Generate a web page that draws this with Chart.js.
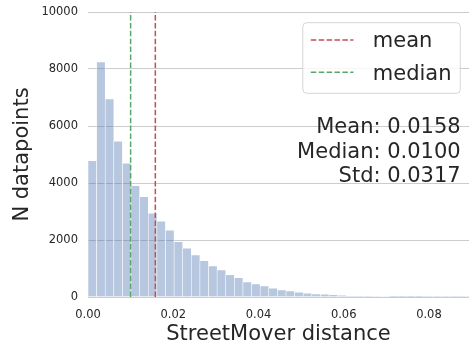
<!DOCTYPE html>
<html>
<head>
<meta charset="utf-8">
<script src="https://cdn.jsdelivr.net/npm/chart.js@4.4.0/dist/chart.umd.min.js"></script>
<style>
    html, body { margin: 0; padding: 0; background: #ffffff; }
    #wrap { width: 469px; height: 346px; }
</style>
</head>
<body>
<div id="wrap"><canvas id="myChart"></canvas></div>
<script>
// histogram of StreetMover distance, one count per bin
const binWidth = 0.00202;
const counts = [4780, 8250, 6950, 5465, 4693, 3907, 3521, 2937, 2657, 2340,
    1941, 1709, 1474, 1275, 1088, 948, 784, 678, 527, 456,
    386, 305, 246, 211, 164, 129, 105, 100, 82, 60,
    35, 30, 25, 20, 18, 6, 5, 4, 4, 3,
    3, 2, 2, 2, 2];

const meanValue = 0.0158;
const medianValue = 0.0100;
const stdValue = 0.0317;

const xTicks = [0, 0.02, 0.04, 0.06, 0.08];
const yTicks = [0, 2000, 4000, 6000, 8000, 10000];

const legendLabels = ['mean', 'median'];
const statsLines = [
    'Mean: ' + meanValue.toFixed(4),
    'Median: ' + medianValue.toFixed(4),
    'Std: ' + stdValue.toFixed(4)
];

const textColor = '#262626';
const fontFamily = '"DejaVu Sans", sans-serif';

const barData = counts.map((c, i) => ({ x: (i + 0.5) * binWidth, y: c }));

function vline(value) {
    return [{ x: value, y: yTicks[0] }, { x: value, y: yTicks[yTicks.length - 1] }];
}

// legend box + stats text, drawn like matplotlib's legend and text
const annotations = {
    id: 'annotations',
    afterDraw(chart) {
        const ctx = chart.ctx;
        const area = chart.chartArea;
        const right = area.right - 8.7;
        const top = area.top;
        ctx.save();

        // legend frame
        const bx = right - 157.5, by = top + 10.7, bw = 157.5, bh = 70.6;
        ctx.beginPath();
        ctx.roundRect(bx, by, bw, bh, 4);
        ctx.fillStyle = 'rgba(255,255,255,0.8)';
        ctx.fill();
        ctx.strokeStyle = 'rgba(204,204,204,0.8)';
        ctx.lineWidth = 1;
        ctx.stroke();

        ctx.font = '21px ' + fontFamily;
        ctx.fillStyle = textColor;
        ctx.textBaseline = 'alphabetic';
        const rows = [top + 28, top + 60.3];
        legendLabels.forEach((label, i) => {
            const ds = chart.data.datasets[i + 1];
            ctx.beginPath();
            ctx.setLineDash(ds.borderDash);
            ctx.strokeStyle = ds.borderColor;
            ctx.lineWidth = ds.borderWidth;
            ctx.moveTo(bx + 8, rows[i]);
            ctx.lineTo(bx + 50.6, rows[i]);
            ctx.stroke();
            ctx.setLineDash([]);
            ctx.textAlign = 'left';
            ctx.fillText(label, bx + 70, rows[i] + 7.3);
        });

        // summary numbers
        ctx.textAlign = 'right';
        const baselines = [top + 120.7, top + 145.7, top + 170.3];
        statsLines.forEach((line, i) => {
            ctx.fillText(line, right + 0.4, baselines[i]);
        });
        ctx.restore();
    }
};

const ctx = document.getElementById('myChart');

new Chart(ctx, {
    type: 'bar',
    data: {
        datasets: [{
            label: 'counts',
            data: barData,
            backgroundColor: 'rgba(76,114,176,0.4)',
            borderColor: 'rgba(255,255,255,0.7)',
            borderWidth: { left: 0.6, right: 0.6, top: 0.6, bottom: 0 },
            borderSkipped: false,
            barPercentage: 1,
            categoryPercentage: 1,
            order: 2
        },
        {
            type: 'line',
            label: legendLabels[0],
            data: vline(meanValue),
            borderColor: '#c44e52',
            borderWidth: 1.5,
            borderDash: [5.5, 2.4],
            pointRadius: 0,
            order: 1
        },
        {
            type: 'line',
            label: legendLabels[1],
            data: vline(medianValue),
            borderColor: '#55a868',
            borderWidth: 1.5,
            borderDash: [5.5, 2.4],
            pointRadius: 0,
            order: 1
        }]
    },
    options: {
        responsive: true,
        maintainAspectRatio: false,
        animation: false,
        layout: {
            padding: { top: 12, right: 0, left: 0, bottom: 0 }
        },
        plugins: {
            legend: { display: false },
            tooltip: { enabled: false }
        },
        scales: {
            x: {
                type: 'linear',
                min: 0,
                max: 0.0894,
                offset: false,
                afterFit: scale => { scale.height = 49; },
                afterBuildTicks: scale => {
                    scale.ticks = xTicks.map(v => ({ value: v }));
                },
                grid: { display: false, drawTicks: false },
                border: { display: false },
                ticks: {
                    color: textColor,
                    padding: 11,
                    font: { family: fontFamily, size: 11.5 },
                    maxRotation: 0,
                    callback: value => Number(value).toFixed(2)
                },
                title: {
                    display: true,
                    text: 'StreetMover distance',
                    color: textColor,
                    font: { family: fontFamily, size: 21, lineHeight: 1.05 },
                    padding: { top: 0, bottom: 0 }
                }
            },
            y: {
                min: 0,
                max: 10000,
                afterFit: scale => { scale.width = 88; },
                afterBuildTicks: scale => {
                    scale.ticks = yTicks.map(v => ({ value: v }));
                },
                // invisible tick marks keep the labels off the axis
                grid: { color: '#cccccc', lineWidth: 1, drawTicks: true, tickLength: 10, tickColor: 'rgba(0,0,0,0)' },
                border: { display: false },
                ticks: {
                    color: textColor,
                    padding: 0,
                    font: { family: fontFamily, size: 11.5 },
                    callback: value => String(value)
                },
                title: {
                    display: true,
                    text: 'N datapoints',
                    color: textColor,
                    font: { family: fontFamily, size: 21, lineHeight: 1.05 },
                    padding: { top: 12, bottom: 0 }
                }
            }
        }
    },
    plugins: [annotations]
});
</script>
</body>
</html>
